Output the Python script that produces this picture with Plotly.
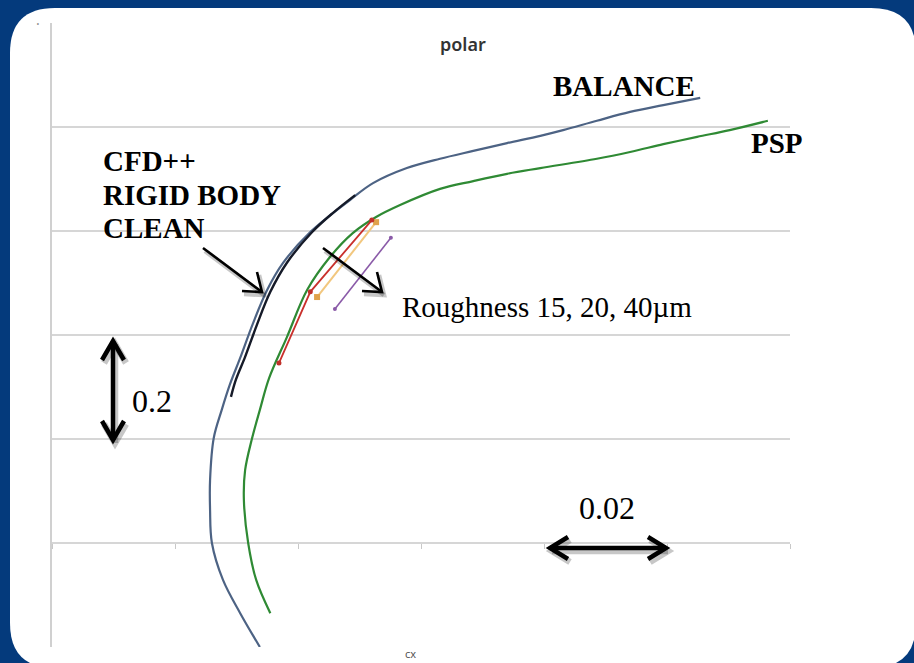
import plotly.graph_objects as go

# ---------------- data ----------------
balance_cx = [0.0338, 0.0306, 0.0278, 0.0260, 0.0257, 0.0257, 0.0263, 0.0276, 0.0289, 0.0306,
              0.0327, 0.0350, 0.0376, 0.0420, 0.0485, 0.0522, 0.0577, 0.0631, 0.0685, 0.0740,
              0.0794, 0.0831, 0.0886, 0.0940, 0.0994, 0.1054]
balance_cz = [0.000, 0.065, 0.129, 0.200, 0.264, 0.321, 0.402, 0.456, 0.504, 0.556,
              0.623, 0.687, 0.739, 0.798, 0.860, 0.892, 0.921, 0.939, 0.954, 0.969,
              0.983, 0.994, 1.012, 1.029, 1.042, 1.056]

psp_cx = [0.0355, 0.0332, 0.0319, 0.0312, 0.0314, 0.0325, 0.0338, 0.0353, 0.0382, 0.0415,
          0.0452, 0.0489, 0.0527, 0.0566, 0.0631, 0.0685, 0.0740, 0.0794, 0.0886, 0.0940,
          0.0994, 0.1049, 0.1102, 0.1164]
psp_cz = [0.065, 0.129, 0.200, 0.283, 0.340, 0.400, 0.456, 0.517, 0.596, 0.687,
          0.750, 0.796, 0.827, 0.850, 0.881, 0.896, 0.910, 0.921, 0.939, 0.952,
          0.967, 0.981, 0.994, 1.012]

cfd_cx = [0.0291, 0.0299, 0.0314, 0.0333, 0.0355, 0.0382, 0.0423, 0.0457, 0.0493]
cfd_cz = [0.481, 0.514, 0.558, 0.619, 0.683, 0.739, 0.798, 0.835, 0.869]

rough15_cx = [0.0369, 0.0420, 0.0520]
rough15_cz = [0.546, 0.683, 0.821]
rough20_cx = [0.0431, 0.0527]
rough20_cz = [0.673, 0.817]
rough40_cx = [0.0460, 0.0551]
rough40_cz = [0.650, 0.787]

x_ticks = [0.0, 0.02, 0.04, 0.06, 0.08, 0.10, 0.12]
y_grid = [0.0, 0.2, 0.4, 0.6, 0.8, 1.0]

# ---------------- layout helpers (pixel -> paper) ----------------
L, R, T, B = 52, 790, 23, 647
def PX(p): return (p - L) / (R - L)
def PY(p): return (B - p) / (B - T)

fig = go.Figure()
fig.add_trace(go.Scatter(x=balance_cx, y=balance_cz, mode="lines", line=dict(color="#4d6384", width=2.2, shape="spline"), name="BALANCE"))
fig.add_trace(go.Scatter(x=psp_cx, y=psp_cz, mode="lines", line=dict(color="#2f8a34", width=2.2, shape="spline"), name="PSP"))
fig.add_trace(go.Scatter(x=cfd_cx, y=cfd_cz, mode="lines", line=dict(color="#151a28", width=2.4, shape="spline"), name="CFD++"))
fig.add_trace(go.Scatter(x=rough20_cx, y=rough20_cz, mode="lines+markers", line=dict(color="#f2c77e", width=2),
                         marker=dict(color="#e0a24a", size=6, symbol="square"), name="20um"))
fig.add_trace(go.Scatter(x=rough15_cx, y=rough15_cz, mode="lines+markers", line=dict(color="#c9302c", width=1.8),
                         marker=dict(color="#c0302a", size=5), name="15um"))
fig.add_trace(go.Scatter(x=rough40_cx, y=rough40_cz, mode="lines+markers", line=dict(color="#8a5aa8", width=1.6),
                         marker=dict(color="#8a5aa8", size=4), name="40um"))

shapes = []
# white rounded panel
pl, pt, pr, pb, rad = 10, 8, 916, 668, 45
path = (f"M {PX(pl+rad)},{PY(pt)} L {PX(pr-rad)},{PY(pt)} Q {PX(pr)},{PY(pt)} {PX(pr)},{PY(pt+rad)} "
        f"L {PX(pr)},{PY(pb-rad)} Q {PX(pr)},{PY(pb)} {PX(pr-rad)},{PY(pb)} "
        f"L {PX(pl+rad)},{PY(pb)} Q {PX(pl)},{PY(pb)} {PX(pl)},{PY(pb-rad)} "
        f"L {PX(pl)},{PY(pt+rad)} Q {PX(pl)},{PY(pt)} {PX(pl+rad)},{PY(pt)} Z")
shapes.append(dict(type="path", path=path, xref="paper", yref="paper", fillcolor="white",
                   line=dict(width=0), layer="below"))

def seg(pts, color, width, dx=0, dy=0):
    d = "M " + " L ".join(f"{PX(x+dx)},{PY(y+dy)}" for x, y in pts)
    return dict(type="path", path=d, xref="paper", yref="paper",
                line=dict(color=color, width=width), layer="above")

def arrow(pts_list, width, shadow=True):
    if shadow:
        for pts in pts_list:
            shapes.append(seg(pts, "rgba(0,0,0,0.22)", width + 2, 2, 3))
    for pts in pts_list:
        shapes.append(seg(pts, "black", width))

# vertical double arrow (0.2)
arrow([[(113, 341), (113, 440)], [(102, 360), (113, 341), (124, 360)], [(102, 421), (113, 440), (124, 421)]], 4.5)
# horizontal double arrow (0.02)
arrow([[(550, 548), (666, 548)], [(568, 537), (550, 548), (568, 559)], [(648, 537), (666, 548), (648, 559)]], 4.5)
# CFD arrow
arrow([[(203, 248), (262, 292)], [(242, 291), (262, 292), (257, 272)]], 2.6)
# roughness arrow
arrow([[(323, 248), (382, 292)], [(362, 291), (382, 292), (377, 272)]], 2.6)

fig.update_layout(shapes=shapes)

serif = "Liberation Serif"
ann = []
def txt(s, x, y, size, family=serif, color="black", xanchor="left", weight="normal"):
    ann.append(dict(text=s, x=PX(x), y=PY(y), xref="paper", yref="paper", showarrow=False,
                    xanchor=xanchor, yanchor="middle",
                    font=dict(family=family, size=size, color=color, weight=weight)))

txt("polar", 463, 44, 18, family="Noto Sans", color="#333333", xanchor="center", weight=600)
txt("cx", 410, 653, 11, family="Noto Sans", color="#555555", xanchor="center")
txt("·", 38, 24, 14, family="Noto Sans", color="#909090", xanchor="center")
txt("<b>BALANCE</b>", 551, 86, 29)
txt("<b>PSP</b>", 749, 143, 29)
txt("<b>CFD++</b>", 101, 161, 29)
txt("<b>RIGID BODY</b>", 101, 195, 29)
txt("<b>CLEAN</b>", 101, 228, 29)
txt("Roughness 15, 20, 40µm", 400, 307, 29)
txt("0.2", 130, 401, 32)
txt("0.02", 577, 508, 32)
fig.update_layout(annotations=ann)

fig.update_layout(
    width=914, height=663,
    margin=dict(l=L, r=914 - R, t=T, b=663 - B),
    paper_bgcolor="#043a7c", plot_bgcolor="white",
    showlegend=False,
    xaxis=dict(range=[0, 0.12], tickvals=x_ticks, showticklabels=False, showgrid=False, zeroline=False,
               showline=False, ticks="outside", ticklen=5, tickcolor="#c8c8c8", tickwidth=1,
               anchor="free", position=(B - 543) / (B - T)),
    yaxis=dict(range=[0, 1.2], tickvals=y_grid, showticklabels=False, showgrid=True, gridcolor="#d6d6d6",
               gridwidth=1.6, zeroline=False, showline=True, linecolor="#d0d0d0", linewidth=1.6, ticks=""),
)

fig.write_html("out.html", config={"displayModeBar": False},
               post_script="document.body.style.margin='0';document.body.style.overflow='hidden';"
                           "document.body.style.background='#043a7c';")
